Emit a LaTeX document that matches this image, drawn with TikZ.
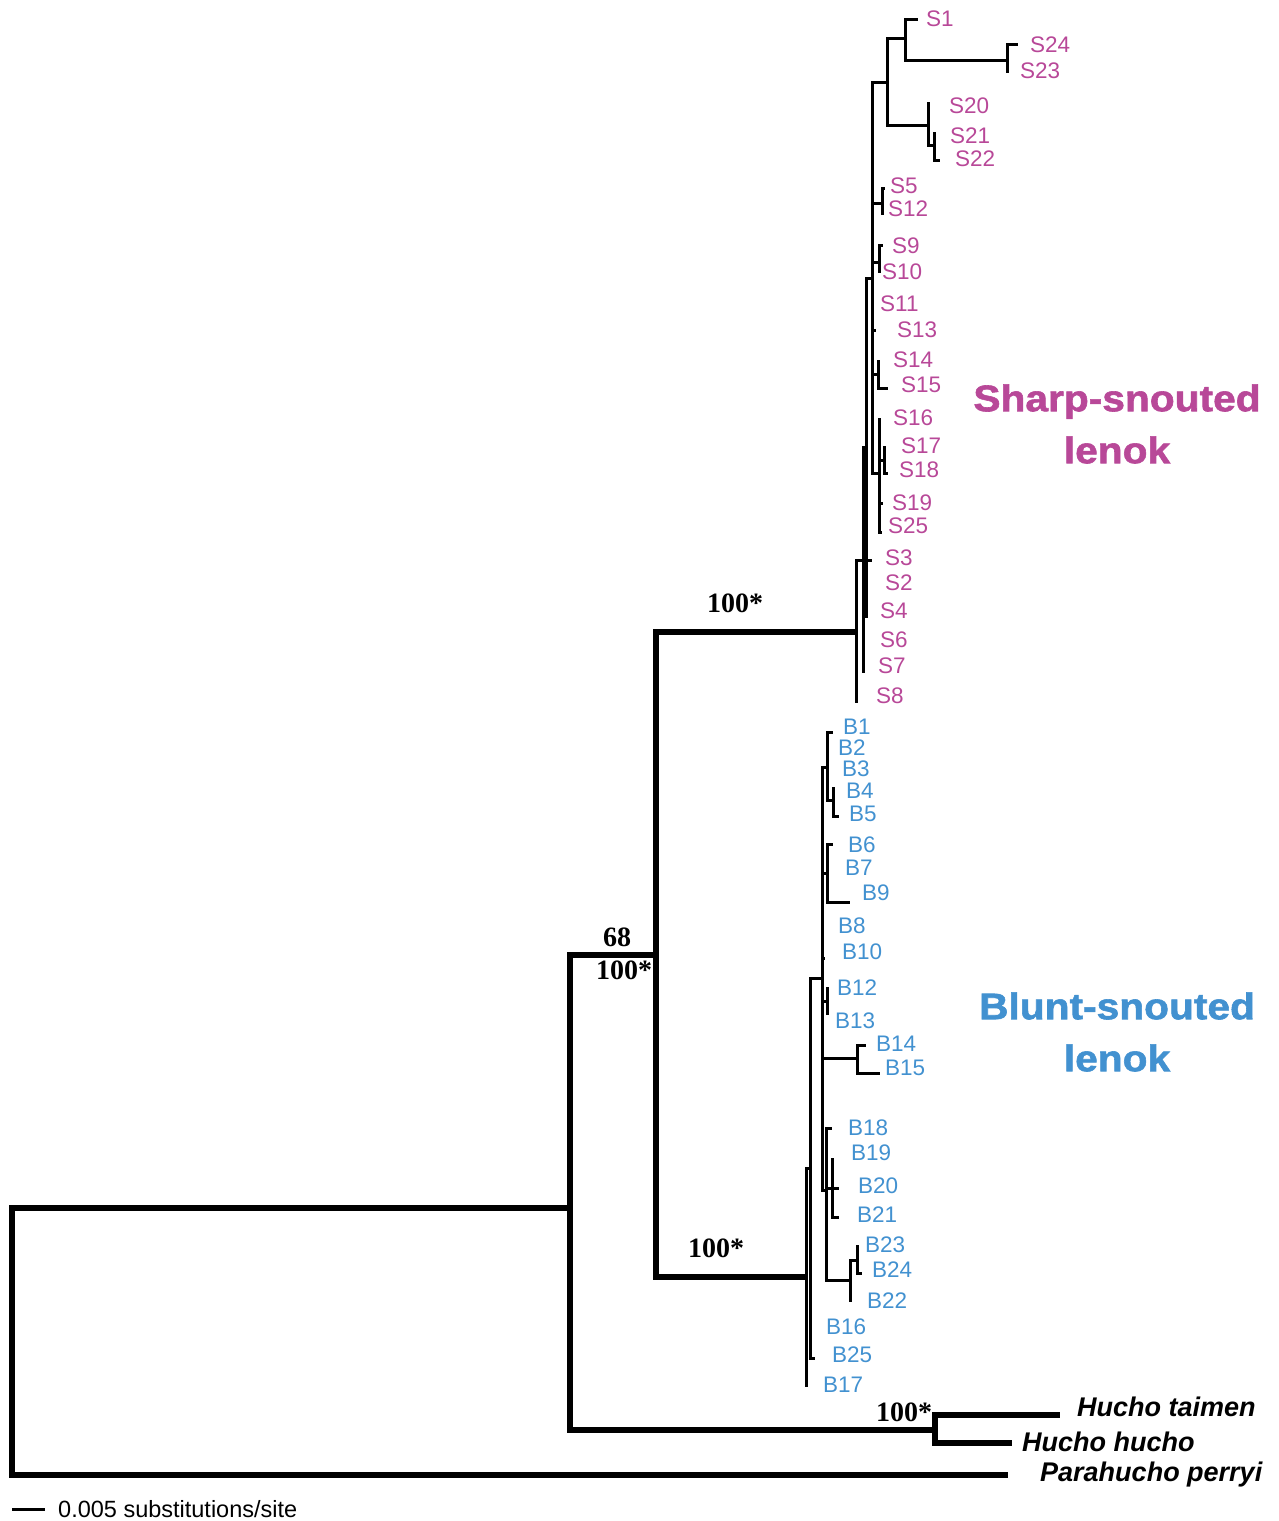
\documentclass[tikz,border=0pt]{standalone}
\usepackage{fontspec}
\setmainfont{Liberation Sans}
\newfontfamily\bootfont{Liberation Serif}
\newfontfamily\cladefont[FakeStretch=1.1, FakeBold=1.6]{Liberation Sans}
\definecolor{sharpc}{RGB}{184,72,152}
\definecolor{bluntc}{RGB}{66,145,208}
\tikzset{
    branch/.style={line width=3pt},
    deep/.style={line width=5.5pt},
    tiplab/.style={anchor=west, inner sep=0pt, font=\fontsize{22.5}{22.5}\selectfont},
    boot/.style={inner sep=0pt, font=\bootfont\bfseries\fontsize{28}{28}\selectfont},
    species/.style={anchor=west, inner sep=0pt, font=\bfseries\itshape\fontsize{27}{27}\selectfont},
    clade/.style={align=center, inner sep=0pt, font=\cladefont\bfseries\fontsize{37}{52}\selectfont},
}

\begin{document}
\begin{tikzpicture}[x=1pt, y=-1pt]
    \useasboundingbox (0, 0) rectangle (1278, 1521);
    % Backbone
    \coordinate (root) at (12, 1341);
    \coordinate (n1) at (570, 1208);
    \coordinate (n2) at (656, 955);
    \coordinate (hu) at (935, 1430);
    \coordinate (tHt) at (1060, 1415);
    \coordinate (tHh) at (1012, 1443);
    \coordinate (tPp) at (1008, 1475);
    % Sharp-snouted clade
    \coordinate (sA) at (856, 632);
    \coordinate (sB) at (863, 560);
    \coordinate (sC) at (866, 447);
    \coordinate (sD) at (872, 278);
    \coordinate (sE) at (887, 82);
    \coordinate (sF) at (905, 38);
    \coordinate (sG) at (1007, 60);
    \coordinate (sH) at (928, 125);
    \coordinate (sI) at (934, 145);
    \coordinate (sJ) at (882, 203);
    \coordinate (sK) at (879, 262);
    \coordinate (sN) at (878, 374);
    \coordinate (sL) at (879, 473);
    \coordinate (sM) at (884, 460);
    \coordinate (tS1) at (918, 19);
    \coordinate (tS24) at (1018, 44);
    \coordinate (tS23) at (1007, 73);
    \coordinate (tS20) at (928, 102);
    \coordinate (tS21) at (934, 132);
    \coordinate (tS22) at (940, 160);
    \coordinate (tS5) at (885, 188);
    \coordinate (tS12) at (882, 215);
    \coordinate (tS9) at (883, 245);
    \coordinate (tS10) at (879, 273);
    \coordinate (tS13) at (876, 330);
    \coordinate (tS14) at (878, 360);
    \coordinate (tS15) at (888, 388);
    \coordinate (tS16) at (879, 418);
    \coordinate (tS17) at (886, 447);
    \coordinate (tS18) at (888, 473);
    \coordinate (tS19) at (883, 503);
    \coordinate (tS25) at (882, 532);
    \coordinate (tS3) at (872, 560);
    \coordinate (tS4) at (866, 618);
    \coordinate (tS7) at (863, 673);
    \coordinate (tS8) at (856, 703);
    % Blunt-snouted clade
    \coordinate (bA) at (806, 1277);
    \coordinate (bP) at (810, 1168);
    \coordinate (bQ) at (822, 978);
    \coordinate (bV1) at (827, 767);
    \coordinate (bW) at (833, 800);
    \coordinate (bV2) at (827, 873);
    \coordinate (bX) at (827, 1001);
    \coordinate (bY) at (857, 1058);
    \coordinate (bR) at (826, 1190);
    \coordinate (bS) at (832, 1188);
    \coordinate (bT) at (850, 1280);
    \coordinate (bU) at (857, 1260);
    \coordinate (tB1) at (833, 732);
    \coordinate (tB4) at (835, 788);
    \coordinate (tB5) at (839, 816);
    \coordinate (tB6) at (833, 844);
    \coordinate (tB9) at (850, 902);
    \coordinate (tB10) at (825, 958);
    \coordinate (tB12) at (827, 987);
    \coordinate (tB13) at (827, 1015);
    \coordinate (tB14) at (866, 1045);
    \coordinate (tB15) at (880, 1073);
    \coordinate (tB18) at (832, 1128);
    \coordinate (tB19) at (832, 1158);
    \coordinate (tB20) at (839, 1188);
    \coordinate (tB21) at (839, 1217);
    \coordinate (tB23) at (857, 1245);
    \coordinate (tB24) at (862, 1273);
    \coordinate (tB22) at (850, 1302);
    \coordinate (tB25) at (815, 1358);
    \coordinate (tB17) at (806, 1387);

    % Branches
    \draw[deep] (root) |- (n1) (root) |- (tPp);
    \draw[deep] (n1) |- (n2) (n1) |- (hu);
    \draw[deep] (hu) |- (tHt) (hu) |- (tHh);
    \draw[deep] (n2) |- (sA) (n2) |- (bA);

    \draw[branch] (sA) |- (sB) (sA) |- (tS8);
    \draw[branch] (sB) |- (sC) (sB) |- (tS3) (sB) |- (tS7);
    \draw[branch] (sC) |- (sD) (sC) |- (tS4);
    \draw[branch] (sD) |- (sE) (sD) |- (sJ) (sD) |- (sK) (sD) |- (tS13)
        (sD) |- (sN) (sD) |- (sL);
    \draw[branch] (sE) |- (sF) (sE) |- (sH);
    \draw[branch] (sF) |- (tS1) (sF) |- (sG);
    \draw[branch] (sG) |- (tS24) (sG) |- (tS23);
    \draw[branch] (sH) |- (tS20) (sH) |- (sI);
    \draw[branch] (sI) |- (tS21) (sI) |- (tS22);
    \draw[branch] (sJ) |- (tS5) (sJ) |- (tS12);
    \draw[branch] (sK) |- (tS9) (sK) |- (tS10);
    \draw[branch] (sN) |- (tS14) (sN) |- (tS15);
    \draw[branch] (sL) |- (tS16) (sL) |- (sM) (sL) |- (tS19) (sL) |- (tS25);
    \draw[branch] (sM) |- (tS17) (sM) |- (tS18);

    \draw[branch] (bA) |- (bP) (bA) |- (tB17);
    \draw[branch] (bP) |- (bQ) (bP) |- (tB25);
    \draw[branch] (bQ) |- (bV1) (bQ) |- (bV2) (bQ) |- (tB10) (bQ) |- (bX)
        (bQ) |- (bY) (bQ) |- (bR);
    \draw[branch] (bV1) |- (tB1) (bV1) |- (bW);
    \draw[branch] (bW) |- (tB4) (bW) |- (tB5);
    \draw[branch] (bV2) |- (tB6) (bV2) |- (tB9);
    \draw[branch] (bX) |- (tB12) (bX) |- (tB13);
    \draw[branch] (bY) |- (tB14) (bY) |- (tB15);
    \draw[branch] (bR) |- (tB18) (bR) |- (bS) (bR) |- (bT);
    \draw[branch] (bS) |- (tB19) (bS) |- (tB20) (bS) |- (tB21);
    \draw[branch] (bT) |- (bU) (bT) |- (tB22);
    \draw[branch] (bU) |- (tB23) (bU) |- (tB24);

    % Tip labels
    \node[tiplab, text=sharpc] (lS1) at (926, 19) {S1};
    \node[tiplab, text=sharpc] (lS24) at (1030, 45) {S24};
    \node[tiplab, text=sharpc] (lS23) at (1020, 71) {S23};
    \node[tiplab, text=sharpc] (lS20) at (949, 106) {S20};
    \node[tiplab, text=sharpc] (lS21) at (950, 136) {S21};
    \node[tiplab, text=sharpc] (lS22) at (955, 159) {S22};
    \node[tiplab, text=sharpc] (lS5) at (890, 186) {S5};
    \node[tiplab, text=sharpc] (lS12) at (888, 209) {S12};
    \node[tiplab, text=sharpc] (lS9) at (892, 246) {S9};
    \node[tiplab, text=sharpc] (lS10) at (882, 272) {S10};
    \node[tiplab, text=sharpc] (lS11) at (880, 304) {S11};
    \node[tiplab, text=sharpc] (lS13) at (897, 330) {S13};
    \node[tiplab, text=sharpc] (lS14) at (893, 360) {S14};
    \node[tiplab, text=sharpc] (lS15) at (901, 385) {S15};
    \node[tiplab, text=sharpc] (lS16) at (893, 418) {S16};
    \node[tiplab, text=sharpc] (lS17) at (901, 446) {S17};
    \node[tiplab, text=sharpc] (lS18) at (899, 470) {S18};
    \node[tiplab, text=sharpc] (lS19) at (892, 503) {S19};
    \node[tiplab, text=sharpc] (lS25) at (888, 526) {S25};
    \node[tiplab, text=sharpc] (lS3) at (885, 558) {S3};
    \node[tiplab, text=sharpc] (lS2) at (885, 583) {S2};
    \node[tiplab, text=sharpc] (lS4) at (880, 611) {S4};
    \node[tiplab, text=sharpc] (lS6) at (880, 640) {S6};
    \node[tiplab, text=sharpc] (lS7) at (878, 666) {S7};
    \node[tiplab, text=sharpc] (lS8) at (876, 696) {S8};

    \node[tiplab, text=bluntc] (lB1) at (843, 727) {B1};
    \node[tiplab, text=bluntc] (lB2) at (838, 748) {B2};
    \node[tiplab, text=bluntc] (lB3) at (842, 769) {B3};
    \node[tiplab, text=bluntc] (lB4) at (846, 791) {B4};
    \node[tiplab, text=bluntc] (lB5) at (849, 814) {B5};
    \node[tiplab, text=bluntc] (lB6) at (848, 845) {B6};
    \node[tiplab, text=bluntc] (lB7) at (845, 868) {B7};
    \node[tiplab, text=bluntc] (lB9) at (862, 893) {B9};
    \node[tiplab, text=bluntc] (lB8) at (838, 926) {B8};
    \node[tiplab, text=bluntc] (lB10) at (842, 952) {B10};
    \node[tiplab, text=bluntc] (lB12) at (837, 988) {B12};
    \node[tiplab, text=bluntc] (lB13) at (835, 1021) {B13};
    \node[tiplab, text=bluntc] (lB14) at (876, 1044) {B14};
    \node[tiplab, text=bluntc] (lB15) at (885, 1068) {B15};
    \node[tiplab, text=bluntc] (lB18) at (848, 1128) {B18};
    \node[tiplab, text=bluntc] (lB19) at (851, 1153) {B19};
    \node[tiplab, text=bluntc] (lB20) at (858, 1186) {B20};
    \node[tiplab, text=bluntc] (lB21) at (857, 1215) {B21};
    \node[tiplab, text=bluntc] (lB23) at (865, 1245) {B23};
    \node[tiplab, text=bluntc] (lB24) at (872, 1270) {B24};
    \node[tiplab, text=bluntc] (lB22) at (867, 1301) {B22};
    \node[tiplab, text=bluntc] (lB16) at (826, 1327) {B16};
    \node[tiplab, text=bluntc] (lB25) at (832, 1355) {B25};
    \node[tiplab, text=bluntc] (lB17) at (823, 1385) {B17};

    \node[species] (lHt) at (1077, 1407) {Hucho taimen};
    \node[species] (lHh) at (1022, 1442) {Hucho hucho};
    \node[species] (lPp) at (1040, 1475) {Parahucho perryi};

    % Support values
    \node[boot] (bsSharp) at (735, 603) {100*};
    \node[boot] (bsLenokA) at (617, 937) {68};
    \node[boot] (bsLenokB) at (624, 970) {100*};
    \node[boot] (bsBlunt) at (716, 1248) {100*};
    \node[boot] (bsHucho) at (904, 1412) {100*};

    % Clade names
    \node[clade, text=sharpc] (cSharp) at (1117, 424) {Sharp-snouted\\lenok};
    \node[clade, text=bluntc] (cBlunt) at (1117, 1032) {Blunt-snouted\\lenok};

    % Scale bar
    \coordinate (sb1) at (12, 1509);
    \coordinate (sb2) at (45, 1509);
    \draw[branch] (sb1) -- (sb2);
    \node[tiplab, font=\fontsize{23.5}{23.5}\selectfont] (sbText) at (58, 1509) {0.005 substitutions/site};
\end{tikzpicture}
\end{document}
